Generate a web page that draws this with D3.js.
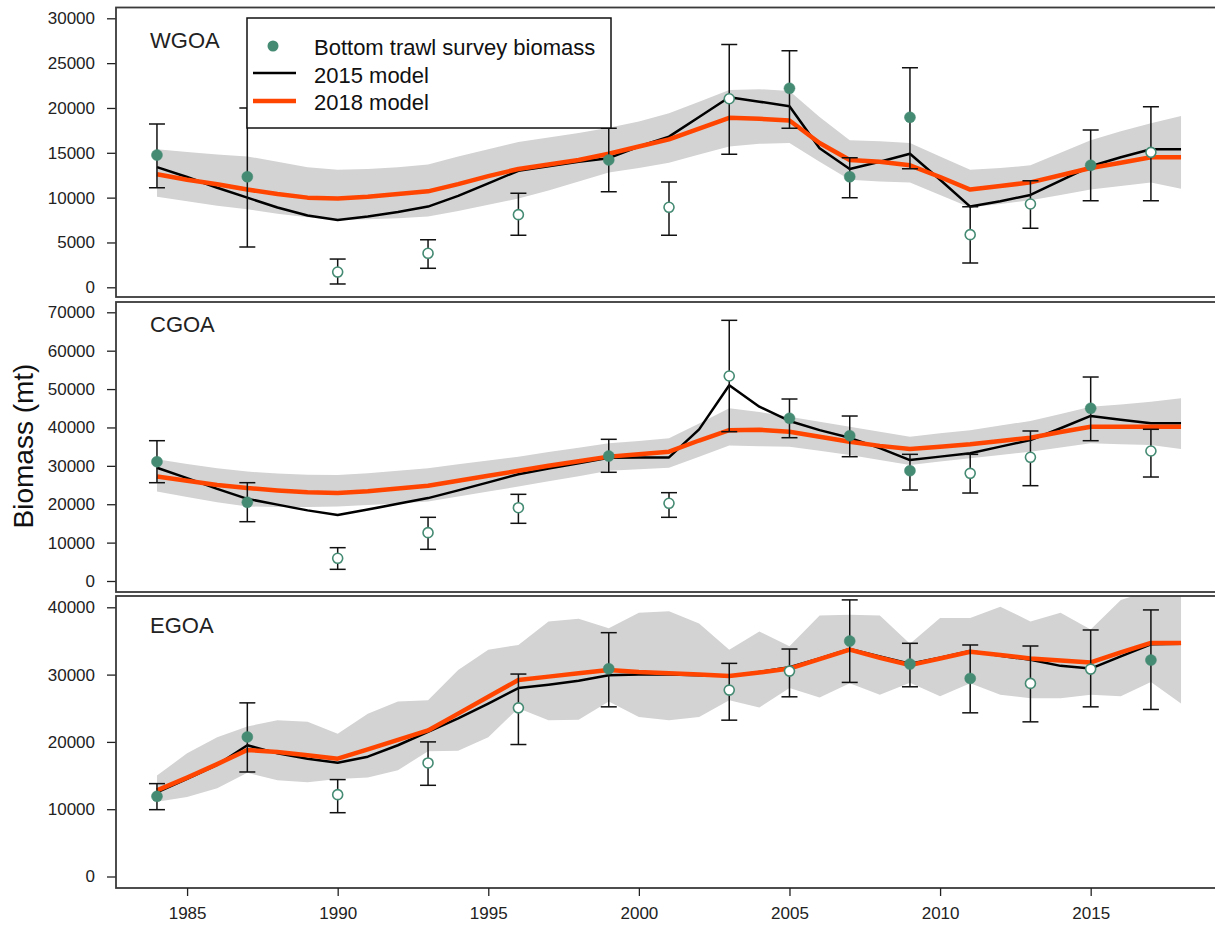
<!DOCTYPE html>
<html lang="en">
<head>
<meta charset="UTF-8">
<title>Biomass by region: survey vs. 2015 and 2018 models</title>
<script src="https://d3js.org/d3.v7.min.js"></script>
<style>
  body { margin: 0; background: #fff; font-family: "Liberation Sans", Arial, sans-serif; }
  .tick text { font-size: 17px; fill: #222; font-family: "Liberation Sans", Arial, sans-serif; }
  .tick line { stroke: #222; stroke-width: 1.3px; }
</style>
</head>
<body>
<div id="chart"></div>
<script>
// ---- data ----
const years = [1984, 1985, 1986, 1987, 1988, 1989, 1990, 1991, 1992, 1993, 1994, 1995,
  1996, 1997, 1998, 1999, 2000, 2001, 2002, 2003, 2004, 2005, 2006, 2007, 2008, 2009,
  2010, 2011, 2012, 2013, 2014, 2015, 2016, 2017, 2018];
const xTicks = [1985, 1990, 1995, 2000, 2005, 2010, 2015];
const regions = ["WGOA", "CGOA", "EGOA"];
const legendLabels = ["Bottom trawl survey biomass", "2015 model", "2018 model"];

// WGOA
const wgoaTicks = [0, 5000, 10000, 15000, 20000, 25000, 30000];
const wgoaModel2015 = [13400, 12300, 11100, 10000, 8900, 8000, 7500, 7900, 8400, 9000, 10200, 11600,
  13000, 13500, 14000, 14400, 15700, 16800, 19000, 21200, 20700, 20200, 15500, 13200, 14000, 14900,
  12000, 9000, 9600, 10300, 11900, 13500, 14500, 15400, 15400];
const wgoaModel2018 = [12600, 12000, 11500, 10900, 10400, 10000, 9900, 10100, 10400, 10700, 11500, 12400,
  13200, 13700, 14200, 14900, 15700, 16500, 17700, 18900, 18800, 18600, 16100, 14200, 14000, 13600,
  12300, 10900, 11300, 11700, 12500, 13300, 13900, 14500, 14500];
const wgoaUpper = [15400, 15100, 14800, 14600, 14000, 13400, 13100, 13200, 13400, 13700, 14600, 15400,
  16200, 16700, 17200, 17800, 18500, 19400, 20700, 22000, 22100, 21900, 19000, 16400, 16300, 16100,
  14600, 13100, 13300, 13600, 15000, 16400, 17400, 18300, 19100];
const wgoaLower = [10100, 9600, 9100, 8700, 8200, 7800, 7500, 7600, 7700, 7900, 8500, 9200,
  9900, 10800, 11800, 12800, 13300, 13900, 14800, 15700, 16000, 16100, 14000, 12000, 11800, 11700,
  10300, 8900, 9300, 9700, 10300, 10900, 11300, 11700, 11000];
const wgoaSurveyYears = [1984, 1987, 1990, 1993, 1996, 1999, 2001, 2003, 2005, 2007, 2009, 2011, 2013, 2015, 2017];
const wgoaSurvey   = [14750, 12330, 1700, 3790, 8100, 14200, 8920, 21030, 22190, 12330, 18960, 5870, 9290, 13600, 15050];
const wgoaSurveyLo = [11100, 4500, 370, 2120, 5800, 10650, 5800, 14830, 17730, 9990, 13220, 2710, 6580, 9660, 9660];
const wgoaSurveyHi = [18200, 20000, 3150, 5310, 10480, 17730, 11740, 27090, 26380, 14450, 24490, 8990, 11890, 17540, 20140];
const wgoaSurveyFilled = [true, true, false, false, false, true, false, false, true, true, true, false, false, true, false];

// CGOA
const cgoaTicks = [0, 10000, 20000, 30000, 40000, 50000, 60000, 70000];
const cgoaModel2015 = [29500, 26800, 24000, 21400, 19900, 18400, 17200, 18600, 20100, 21600, 23600, 25700,
  27800, 29300, 30700, 32100, 32200, 32200, 39500, 51000, 45400, 41700, 39300, 37300, 34600, 31500,
  32400, 33300, 35000, 36700, 39800, 43000, 42000, 41100, 41100];
const cgoaModel2018 = [27200, 26100, 25000, 24200, 23600, 23100, 22900, 23400, 24100, 24800, 26100, 27400,
  28700, 30000, 31200, 32400, 33000, 33700, 36600, 39300, 39400, 38900, 37600, 36300, 35200, 34400,
  35000, 35600, 36500, 37300, 38800, 40200, 40200, 40200, 40200];
const cgoaUpper = [31700, 30500, 29400, 28500, 28000, 27700, 27600, 28100, 28700, 29400, 30400, 31400,
  32400, 33600, 34700, 35900, 36500, 37200, 41000, 45000, 44000, 42800, 41500, 40200, 38900, 37600,
  38500, 39300, 40500, 41700, 43500, 45400, 46000, 46700, 47600];
const cgoaLower = [23300, 21900, 20500, 19400, 19300, 19300, 19400, 19800, 20200, 20700, 22000, 23300,
  24600, 26000, 27300, 28700, 29100, 29500, 32400, 35300, 35100, 35000, 33900, 32800, 31500, 30200,
  31100, 32000, 32800, 33700, 34800, 35900, 35600, 35400, 34400];
const cgoaSurveyYears = [1984, 1987, 1990, 1993, 1996, 1999, 2001, 2003, 2005, 2007, 2009, 2011, 2013, 2015, 2017];
const cgoaSurvey   = [31080, 20500, 5910, 12590, 19100, 32560, 20240, 53400, 42380, 37850, 28730, 28050, 32220, 44990, 33870];
const cgoaSurveyLo = [25610, 15450, 3040, 8250, 15030, 28320, 16590, 38900, 37330, 32380, 23700, 22920, 24830, 36550, 27090];
const cgoaSurveyHi = [36550, 25610, 8680, 16590, 22580, 36910, 23010, 67910, 47410, 42980, 33000, 33000, 39080, 53140, 39520];
const cgoaSurveyFilled = [true, true, false, false, false, true, false, false, true, true, true, false, false, true, false];

// EGOA (no 2001 survey here)
const egoaTicks = [0, 10000, 20000, 30000, 40000];
const egoaModel2015 = [12500, 14500, 16600, 19500, 18300, 17500, 16900, 17800, 19500, 21500, 23500, 25700,
  28000, 28500, 29100, 29900, 30000, 30000, 29900, 29800, 30400, 31100, 32400, 33800, 32700, 31600,
  32500, 33500, 32800, 32200, 31300, 30900, 32700, 34500, 34600];
const egoaModel2018 = [12800, 14700, 16700, 18800, 18500, 18000, 17500, 18900, 20300, 21700, 24200, 26700,
  29200, 29700, 30200, 30700, 30400, 30200, 30000, 29800, 30300, 30900, 32300, 33700, 32500, 31400,
  32400, 33400, 32900, 32400, 32100, 31800, 33300, 34700, 34700];
const egoaUpper = [15000, 18300, 20700, 22300, 23200, 23000, 21200, 24200, 26000, 26200, 30700, 33700,
  34400, 37900, 38300, 36900, 39200, 39400, 37600, 33700, 36400, 34200, 38800, 38900, 38800, 34600,
  38400, 38400, 40100, 37900, 39200, 36700, 41100, 42500, 43000];
const egoaLower = [11100, 11800, 13100, 15400, 14300, 14000, 14500, 14700, 15800, 18600, 18700, 20700,
  25000, 23200, 23300, 26000, 23700, 23200, 23700, 26200, 25100, 28000, 26600, 28700, 27000, 28800,
  26800, 28700, 27000, 26500, 26500, 27000, 26800, 28900, 25700];
const egoaSurveyYears = [1984, 1987, 1990, 1993, 1996, 1999, 2003, 2005, 2007, 2009, 2011, 2013, 2015, 2017];
const egoaSurvey   = [11910, 20740, 12160, 16870, 25060, 30870, 27700, 30520, 34990, 31570, 29430, 28690, 30820, 32160];
const egoaSurveyLo = [9930, 15530, 9480, 13550, 19610, 25210, 23230, 26700, 28840, 28190, 24320, 22980, 25210, 24820];
const egoaSurveyHi = [13800, 25800, 14400, 20000, 30080, 36230, 31670, 33800, 41100, 34650, 34400, 34250, 36630, 39610];
const egoaSurveyFilled = [true, true, false, false, false, true, false, false, true, true, true, false, false, true];

// ---- layout ----
const W = 1215, H = 928;
const frameLeft = 116, frameRight = 1222;
const green = "#458B74", orange = "#FF4500", band = "#D3D3D3";

const panels = [
  { name: regions[0], ticks: wgoaTicks, m15: wgoaModel2015, m18: wgoaModel2018, lo: wgoaLower, hi: wgoaUpper,
    sy: wgoaSurveyYears, sv: wgoaSurvey, sl: wgoaSurveyLo, sh: wgoaSurveyHi, sf: wgoaSurveyFilled,
    top: 7.5, bottom: 297, zeroY: 287.3, maxY: 18.3, labelY: 48 },
  { name: regions[1], ticks: cgoaTicks, m15: cgoaModel2015, m18: cgoaModel2018, lo: cgoaLower, hi: cgoaUpper,
    sy: cgoaSurveyYears, sv: cgoaSurvey, sl: cgoaSurveyLo, sh: cgoaSurveyHi, sf: cgoaSurveyFilled,
    top: 302, bottom: 592, zeroY: 581, maxY: 312.3, labelY: 332 },
  { name: regions[2], ticks: egoaTicks, m15: egoaModel2015, m18: egoaModel2018, lo: egoaLower, hi: egoaUpper,
    sy: egoaSurveyYears, sv: egoaSurvey, sl: egoaSurveyLo, sh: egoaSurveyHi, sf: egoaSurveyFilled,
    top: 596, bottom: 888, zeroY: 876.5, maxY: 607.3, labelY: 633 }
];

const svg = d3.select("#chart").append("svg")
  .attr("width", W).attr("height", H)
  .style("font-family", '"Liberation Sans", Arial, sans-serif');

const x = d3.scaleLinear().domain([1982.64, 2019.36]).range([frameLeft, frameRight]);

const defs = svg.append("defs");

panels.forEach((p, i) => {
  const y = d3.scaleLinear().domain([0, p.ticks[p.ticks.length - 1]]).range([p.zeroY, p.maxY]);

  defs.append("clipPath").attr("id", "clip" + i)
    .append("rect").attr("x", frameLeft).attr("y", p.top)
    .attr("width", frameRight - frameLeft).attr("height", p.bottom - p.top);

  const g = svg.append("g").attr("clip-path", `url(#clip${i})`);

  const rows = years.map((yr, k) => ({ year: yr, m15: p.m15[k], m18: p.m18[k], lo: p.lo[k], hi: p.hi[k] }));

  // confidence band of the 2018 model
  g.append("path").datum(rows)
    .attr("d", d3.area().x(d => x(d.year)).y0(d => y(d.lo)).y1(d => y(d.hi)))
    .attr("fill", band);

  // model lines
  g.append("path").datum(rows)
    .attr("d", d3.line().x(d => x(d.year)).y(d => y(d.m15)))
    .attr("fill", "none").attr("stroke", "#000").attr("stroke-width", 2.5)
    .attr("stroke-linejoin", "round");
  g.append("path").datum(rows)
    .attr("d", d3.line().x(d => x(d.year)).y(d => y(d.m18)))
    .attr("fill", "none").attr("stroke", orange).attr("stroke-width", 4.5)
    .attr("stroke-linejoin", "round");

  // survey points with error bars
  const pts = p.sy.map((yr, k) => ({ year: yr, v: p.sv[k], lo: p.sl[k], hi: p.sh[k], filled: p.sf[k] }));
  const eb = g.append("g").attr("stroke", "#111").attr("stroke-width", 1.5);
  eb.selectAll(".bar").data(pts).enter().append("line")
    .attr("x1", d => x(d.year)).attr("x2", d => x(d.year))
    .attr("y1", d => y(d.lo)).attr("y2", d => y(d.hi));
  eb.selectAll(".capHi").data(pts).enter().append("line")
    .attr("x1", d => x(d.year) - 8).attr("x2", d => x(d.year) + 8)
    .attr("y1", d => y(d.hi)).attr("y2", d => y(d.hi));
  eb.selectAll(".capLo").data(pts).enter().append("line")
    .attr("x1", d => x(d.year) - 8).attr("x2", d => x(d.year) + 8)
    .attr("y1", d => y(d.lo)).attr("y2", d => y(d.lo));

  g.selectAll(".pt").data(pts).enter().append("circle")
    .attr("cx", d => x(d.year)).attr("cy", d => y(d.v))
    .attr("r", d => d.filled ? 5.5 : 5)
    .attr("fill", d => d.filled ? green : "#fff")
    .attr("stroke", green).attr("stroke-width", d => d.filled ? 0.5 : 1.6);

  // y axis
  svg.append("g")
    .attr("transform", `translate(${frameLeft},0)`)
    .call(d3.axisLeft(y).tickValues(p.ticks).tickSize(9).tickPadding(12).tickFormat(d3.format("d")))
    .call(a => a.select(".domain").remove());

  // frame
  svg.append("rect")
    .attr("x", frameLeft).attr("y", p.top)
    .attr("width", frameRight - frameLeft).attr("height", p.bottom - p.top)
    .attr("fill", "none").attr("stroke", "#3a3a3a").attr("stroke-width", 1.8);

  // region label
  svg.append("text").attr("x", 150).attr("y", p.labelY)
    .style("font-size", "22px").attr("fill", "#222").text(p.name);

  if (i === panels.length - 1) {
    svg.append("g")
      .attr("transform", `translate(0,${p.bottom})`)
      .call(d3.axisBottom(x).tickValues(xTicks).tickSize(8).tickPadding(11).tickFormat(d3.format("d")))
      .call(a => a.select(".domain").remove());
  }
});

// y axis title
svg.append("text")
  .attr("transform", "translate(33,446) rotate(-90)")
  .attr("text-anchor", "middle")
  .style("font-size", "28px").attr("fill", "#111")
  .text("Biomass (mt)");

// legend
const leg = svg.append("g");
leg.append("rect").attr("x", 247).attr("y", 18).attr("width", 364).attr("height", 110)
  .attr("fill", "#fff").attr("stroke", "#111").attr("stroke-width", 1.5);
leg.append("circle").attr("cx", 273).attr("cy", 46).attr("r", 5.5).attr("fill", green);
leg.append("line").attr("x1", 253).attr("x2", 296).attr("y1", 73).attr("y2", 73)
  .attr("stroke", "#000").attr("stroke-width", 2.5);
leg.append("line").attr("x1", 253).attr("x2", 296).attr("y1", 101).attr("y2", 101)
  .attr("stroke", orange).attr("stroke-width", 4.5);
leg.selectAll(".lt").data(legendLabels).enter().append("text")
  .attr("x", 314).attr("y", (d, k) => 55 + k * 27.5)
  .style("font-size", "22px").attr("fill", "#111")
  .text(d => d);
</script>
</body>
</html>
